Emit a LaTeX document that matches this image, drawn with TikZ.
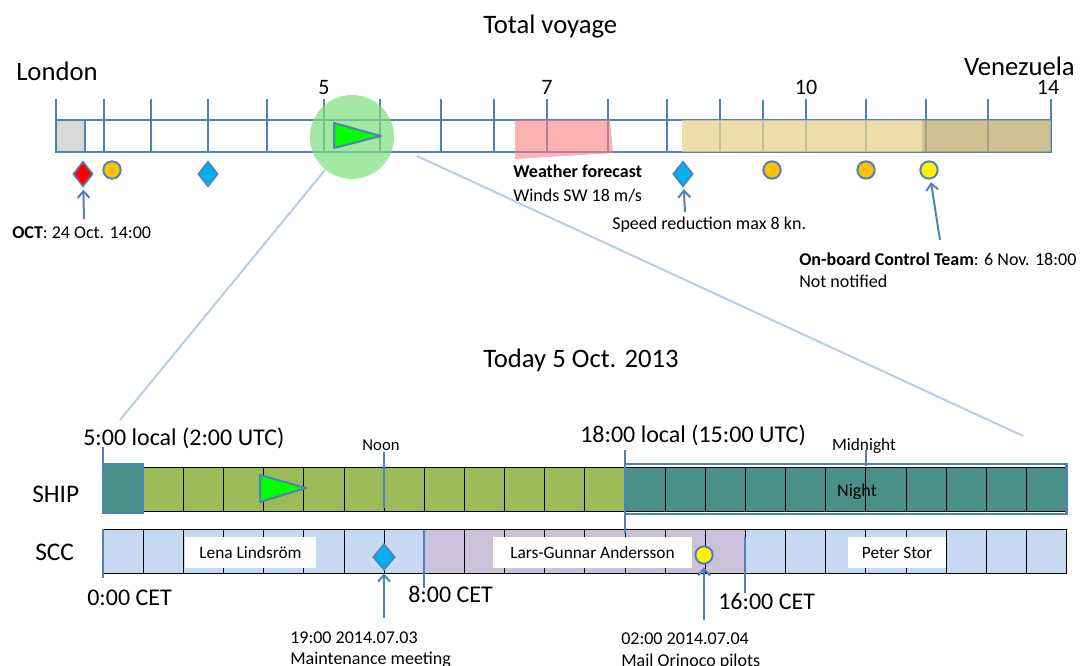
\documentclass[tikz,border=0pt]{standalone}
\usepackage{fontspec}
\setmainfont{Carlito}
\usetikzlibrary{shapes.geometric,arrows.meta}

\definecolor{lineblue}{HTML}{4F81BD}
\definecolor{zoomblue}{HTML}{B9CDE5}
\definecolor{greycell}{HTML}{D9D9D9}
\definecolor{stormred}{HTML}{FA8080}
\definecolor{sandtan}{HTML}{E7D28F}
\definecolor{sanddark}{HTML}{C2AE70}
\definecolor{lenscolor}{HTML}{7CDE7C}
\definecolor{shipgreen}{HTML}{00FF00}
\definecolor{daygreen}{HTML}{9BBB59}
\definecolor{nightteal}{HTML}{4A9089}
\definecolor{sccblue}{HTML}{C6D9F1}
\definecolor{scclilac}{HTML}{CCC1DA}
\definecolor{eventorange}{HTML}{FFC000}
\definecolor{eventblue}{HTML}{00B0F0}

\tikzset{
  blueline/.style={draw=lineblue, line width=1.5pt},
  cellline/.style={draw=black, line width=0.6pt},
  zoomline/.style={draw=zoomblue, line width=1.5pt},
  pointer/.style={draw=lineblue, line width=1.5pt, shorten >=2pt, -{Straight Barb[length=5pt,width=9pt]}},
  evgem/.style={diamond, draw=lineblue, line width=1.2pt, inner sep=0pt, minimum width=15pt, minimum height=19pt},
  evdot/.style={circle, draw=lineblue, line width=1.5pt, inner sep=0pt, minimum size=13pt},
  titletext/.style={font=\fontsize{20}{24}\selectfont, inner sep=0pt, anchor=base west},
  daytext/.style={font=\fontsize{16.5}{20}\selectfont, inner sep=0pt, anchor=base},
  timetext/.style={font=\fontsize{18}{22}\selectfont, inner sep=0pt, anchor=base west},
  smalltext/.style={font=\fontsize{13.5}{16.5}\selectfont, inner sep=0pt, anchor=base west},
  namebox/.style={fill=white, minimum height=23pt, inner sep=0pt, font=\fontsize{13}{16}\selectfont},
}

\begin{document}
\begin{tikzpicture}[x=0.75pt,y=0.75pt,yscale=-1,xscale=1]
\useasboundingbox (0,0) rectangle (1080,666);

% Titles
\node[titletext] (totaltitle) at (483,34) {Total voyage};
\node[titletext] (london) at (16,81) {London};
\node[titletext, anchor=base east] (venezuela) at (1075,76) {Venezuela};
\node[daytext] (dayfive) at (324,95) {5};
\node[daytext] (dayseven) at (547,95) {7};
\node[daytext] (dayten) at (806,95) {10};
\node[daytext] (dayfourteen) at (1048,95) {14};

%Zoom lines
\coordinate (lensL) at (325,170);
\coordinate (lensR) at (417,156);
\coordinate (zoomL) at (120,420);
\coordinate (zoomR) at (1023,436);
\draw[zoomline] (lensL) -- (zoomL);
\draw[zoomline] (lensR) -- (zoomR);

%Shape: voyage bar
\fill[white] (56,120) rectangle (1051,152);
\fill[greycell] (56,120) rectangle (85,152);
\draw[blueline] (85,120) -- (85,152);
\draw[blueline] (56,120) rectangle (1051,152);
\draw[blueline] (56,99) -- (56,152) (104,99) -- (104,152) (151,99) -- (151,152) (208,99) -- (208,152)
  (267,99) -- (267,152) (324,99) -- (324,152) (380,99) -- (380,152) (441,99) -- (441,152)
  (494,99) -- (494,152) (547,99) -- (547,152) (608,99) -- (608,152) (667,99) -- (667,152)
  (720,99) -- (720,152) (763,100) -- (763,152) (806,99) -- (806,152) (866,99) -- (866,152)
  (926,99) -- (926,152) (988,99) -- (988,152) (1051,99) -- (1051,152);
%Shape: sea areas
\fill[sandtan, fill opacity=0.75] (682,120) rectangle (922,152);
\fill[sanddark, fill opacity=0.75] (922,120) rectangle (1051,152);
\fill[stormred, fill opacity=0.6] (515,120) -- (610,120) -- (613,153) -- (515,159) -- cycle;

%Shape: lens and ship
\node[circle, minimum size=63pt, inner sep=0pt, fill=lenscolor, fill opacity=0.7] (lens) at (352,137) {};
\draw[blueline, fill=shipgreen, line join=round] (334,123) -- (381,136) -- (334,148) -- cycle;

% Events on the voyage
\node[evgem, fill=red] (octmark) at (83,174) {};
\node[evdot, fill=eventorange] (portA) at (112,170) {};
\node[evgem, fill=eventblue] (checkA) at (208,174) {};
\node[evgem, fill=eventblue] (speedmark) at (683,174) {};
\node[evdot, fill=eventorange] (portB) at (772,170) {};
\node[evdot, fill=eventorange] (portC) at (866,170) {};
\node[evdot, fill=yellow] (teammark) at (929,170) {};

\coordinate (octfoot) at (84,219);
\coordinate (speedfoot) at (685,212);
\coordinate (teamfoot) at (940,240);
\draw[pointer] (octfoot) -- (octmark);
\draw[pointer] (speedfoot) -- (speedmark);
\draw[pointer] (teamfoot) -- (teammark);

% Text Node
\node[smalltext] (octnote) at (12,239) {\textbf{OCT}: 24 Oct. 14:00};
\node[smalltext] (weatherhead) at (513,178) {\textbf{Weather forecast}};
\node[smalltext] (weatherwind) at (513,202) {Winds SW 18 m/s};
\node[smalltext] (speednote) at (612,230) {Speed reduction max 8 kn.};
\node[smalltext] (teamnote) at (799,266) {\textbf{On-board Control Team}: 6 Nov. 18:00};
\node[smalltext] (teamstate) at (799,287) {Not notified};

% Today
\node[titletext] (todaytitle) at (483,367) {Today 5 Oct. 2013};

%Shape: SHIP row
\fill[daygreen] (103,467) rectangle (625,511);
\fill[nightteal] (625,467) rectangle (1066.6,511);
\draw[cellline, shift={(103,467)}, xstep=40.15, ystep=44] (0,0) grid (963.6,44);
\draw[cellline] (103,467) rectangle (1066.6,511);
\draw[blueline, line width=2pt, fill=nightteal] (103,464) rectangle (143.15,513);
\draw[blueline, line width=2pt] (625,464) rectangle (1066.6,514);
\draw[blueline, fill=shipgreen, line join=round] (260,475) -- (306,488) -- (260,502) -- cycle;

%Shape: SCC row
\fill[sccblue] (103,529) rectangle (424.2,573);
\fill[scclilac] (424.2,529) rectangle (745.4,573);
\fill[sccblue] (745.4,529) rectangle (1066.6,573);
\draw[cellline, shift={(103,529)}, xstep=40.15, ystep=44] (0,0) grid (963.6,44);
\draw[cellline] (103,529) rectangle (1066.6,573);

% time marks
\draw[blueline] (103,447) -- (103,511);
\draw[blueline] (384,452) -- (384,508);
\draw[blueline] (866,450) -- (866,466);
\draw[blueline] (625,450) -- (625,533);
\draw[blueline] (103,529) -- (103,578);
\draw[blueline] (424.2,530) -- (424.2,588);
\draw[blueline] (745.4,537) -- (745.4,593);

% duty officers
\node[namebox, minimum width=98pt] (lena) at (250.5,552.5) {Lena Lindsröm};
\node[namebox, minimum width=149pt] (lars) at (592.5,552.5) {Lars-Gunnar Andersson};
\node[namebox, minimum width=73pt] (peter) at (897,552.5) {Peter Stor};

% Text Node
\node[timetext] (startlocal) at (83,445) {5:00 local (2:00 UTC)};
\node[timetext] (eveninglocal) at (580,442) {18:00 local (15:00 UTC)};
\node[font=\fontsize{12.5}{15}\selectfont, inner sep=0pt, anchor=base] (noon) at (381,450) {Noon};
\node[font=\fontsize{13}{16}\selectfont, inner sep=0pt, anchor=base] (midnight) at (864,450) {Midnight};
\node[font=\fontsize{13.5}{16}\selectfont, inner sep=0pt, anchor=base] (night) at (857,496) {Night};
\node[timetext, font=\fontsize{19}{23}\selectfont] (ship) at (32,502) {SHIP};
\node[timetext, font=\fontsize{19}{23}\selectfont] (scc) at (35,560) {SCC};
\node[timetext] (cetzero) at (87,605) {0:00 CET};
\node[timetext] (ceteight) at (408,602) {8:00 CET};
\node[timetext] (cetsixteen) at (718,609) {16:00 CET};

% Events today
\node[evgem, fill=eventblue, minimum width=16.5pt, minimum height=19.5pt] (meetmark) at (384,557) {};
\node[evdot, fill=yellow] (pilotmark) at (704,555) {};
\coordinate (meetfoot) at (384,618);
\coordinate (pilotfoot) at (704,620);
\draw[pointer] (meetfoot) -- (meetmark);
\draw[pointer] (pilotfoot) -- (pilotmark);

\node[smalltext] (meettime) at (290,643) {19:00 2014.07.03};
\node[smalltext] (meetnote) at (290,664) {Maintenance meeting};
\node[smalltext] (pilottime) at (621,644) {02:00 2014.07.04};
\node[smalltext] (pilotnote) at (621,666) {Mail Orinoco pilots};

\end{tikzpicture}
\end{document}
